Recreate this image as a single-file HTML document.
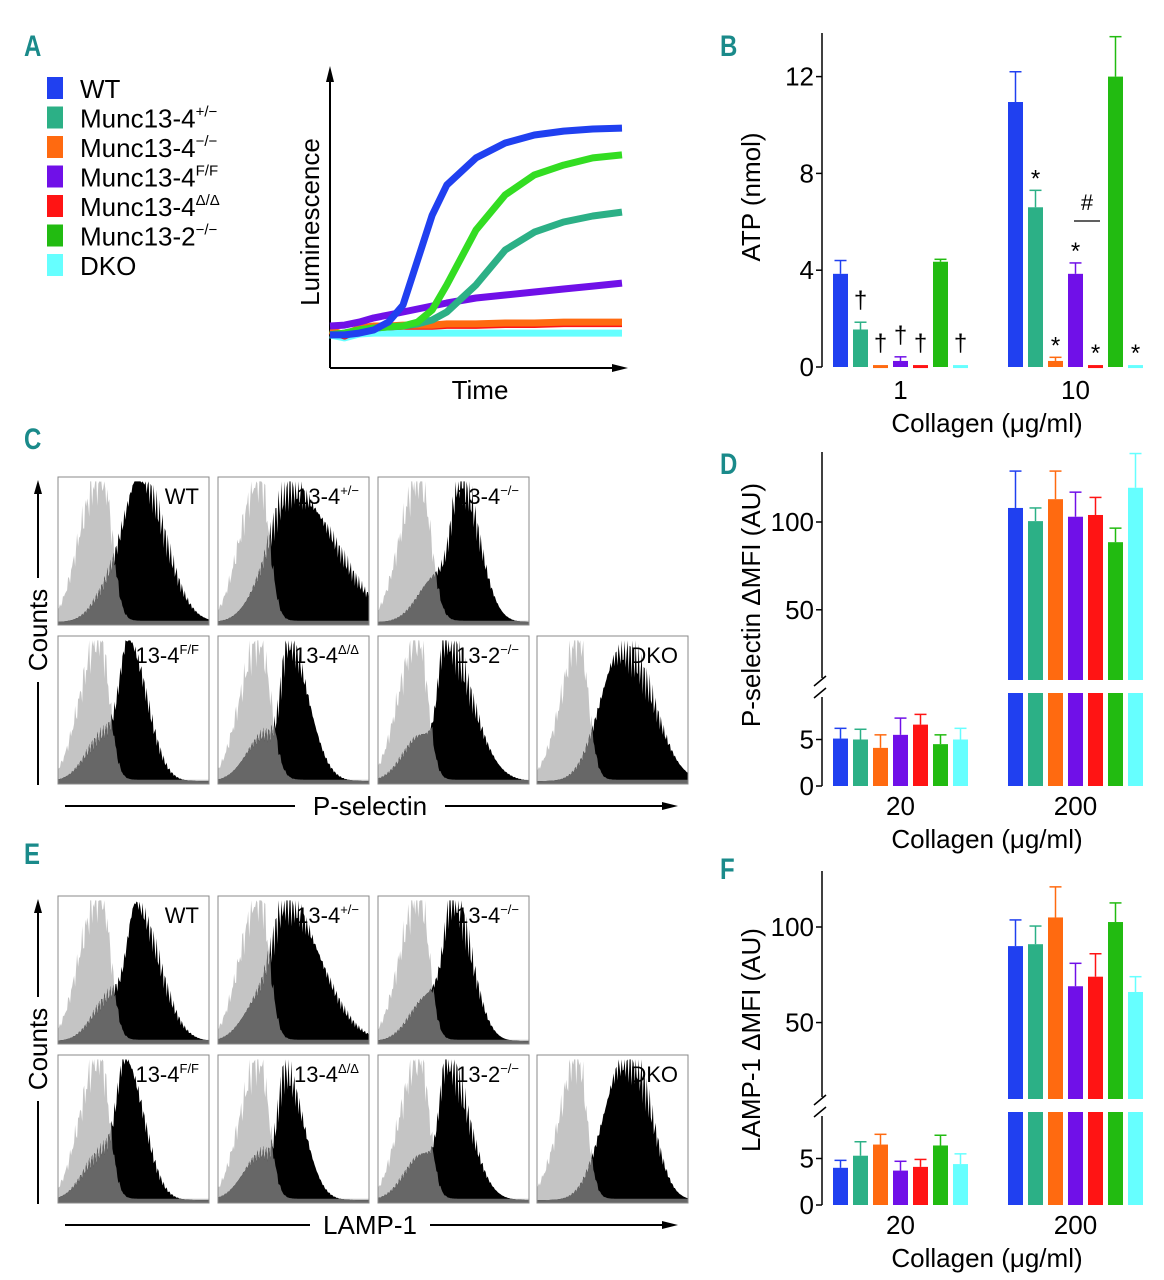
<!DOCTYPE html>
<html><head><meta charset="utf-8"><style>
html,body{margin:0;padding:0;background:#fff;}
svg{display:block;font-family:"Liberation Sans",Arial,sans-serif;}
.pl{font-family:"Liberation Sans",sans-serif;font-weight:bold;fill:#1a8a8a;font-size:30px;}
</style></head><body>
<svg id="fig" width="1164" height="1280" viewBox="0 0 1164 1280" xmlns="http://www.w3.org/2000/svg">
<g id="labels">
<text class="pl" x="30" y="56" transform="scale(0.8,1)">A</text>
<text class="pl" x="900" y="56" transform="scale(0.8,1)">B</text>
<text class="pl" x="30" y="449" transform="scale(0.8,1)">C</text>
<text class="pl" x="900" y="474" transform="scale(0.8,1)">D</text>
<text class="pl" x="30" y="864" transform="scale(0.8,1)">E</text>
<text class="pl" x="900" y="879" transform="scale(0.8,1)">F</text>
</g>
</svg>
<script>
const NS="http://www.w3.org/2000/svg";
const svg=document.getElementById('fig');
function mk(tag,attrs,parent){const e=document.createElementNS(NS,tag);for(const k in attrs)e.setAttribute(k,attrs[k]);(parent||svg).appendChild(e);return e;}

// ---------- shared data ----------
const genotypes=["WT","Munc13-4+/-","Munc13-4-/-","Munc13-4F/F","Munc13-4Δ/Δ","Munc13-2-/-","DKO"];
const colors=["#2040f0","#2cb086","#ff6a10","#7010e8","#ff1414","#22bb11","#66ffff"];
const lineColors=["#2040f0","#2cb086","#ff6a10","#7010e8","#ff1414","#33dd22","#66ffff"];

// ---------- Panel A data ----------
const timePts=[0,5,10,15,20,25,30,35,40,50,60,70,80,90,100];
const lumWT=[11.1,11.1,11.7,12.8,15.4,21.1,36.2,51.3,61.4,70.5,75.5,78.2,79.5,80.2,80.5];
const lumHet=[11.1,11.7,12.8,13.4,13.8,14.1,14.8,16.1,18.8,27.9,39.6,45.6,49,51,52.3];
const lumKO=[12.8,11.1,13.4,14.1,14.1,14.4,14.4,14.4,14.8,14.8,15.1,15.1,15.4,15.4,15.4];
const lumFF=[14.1,14.4,15.4,16.8,17.8,18.8,19.8,20.8,21.8,23.5,24.5,25.5,26.5,27.5,28.5];
const lumDD=[12.4,10.7,13,13.6,13.8,14,14,14,14.3,14.3,14.6,14.6,14.9,14.9,14.9];
const lum132=[11.1,11.7,12.8,13.4,13.8,14.1,15.4,19.5,27.9,46.3,58.1,64.8,68.1,70.5,71.5];
const lumDKO=[11.1,10.1,11.4,11.7,11.7,11.7,11.7,11.7,11.7,11.7,11.7,11.7,11.7,11.7,11.7];

// ---------- Panel B data ----------
const atpGroups=["1","10"];
const atp1=[3.85,1.55,0.08,0.25,0.08,4.35,0.08];
const atp1Err=[4.4,1.85,0.08,0.42,0.08,4.45,0.08];
const atp10=[10.95,6.6,0.25,3.85,0.08,12.0,0.08];
const atp10Err=[12.2,7.3,0.4,4.3,0.08,13.65,0.08];
const atpTicks=[0,4,8,12];
const atpMarks1=["","†","†","†","†","","†"];
const atpMarks10=["","*","*","*","*","","*"];

// ---------- Panel D / F data ----------
const mfiGroups=["20","200"];
const psel20=[5.1,5.0,4.1,5.5,6.6,4.5,5.0];
const psel20Err=[6.2,6.1,5.5,7.3,7.7,5.5,6.2];
const psel200=[108,100.5,113,103,104,88.5,119.5];
const psel200Err=[129,108,129,117,114,96.5,139];
const lamp20=[4.0,5.3,6.5,3.7,4.1,6.4,4.4];
const lamp20Err=[4.8,6.8,7.6,4.7,4.9,7.5,5.5];
const lamp200=[90,91,105,69,74,102.6,66];
const lamp200Err=[103.7,100.5,121,81,86,112.6,74];
const mfiLowTicks=[0,5];
const mfiHighTicks=[50,100];

// ---------- Histogram params [ctrlCenter, ctrlSdL, ctrlSdR, ctrlH, sampCenter, sampSdL, sampSdR, sampH] ----------
const histLabels=["WT","13-4","13-4","13-4","13-4","13-2","DKO"];
const histSups=["","+/−","−/−","F/F","Δ/Δ","−/−",""];
const pselHist=[[0.30,0.12,0.06,0.95,0.55,0.09,0.16,0.98],[0.28,0.10,0.06,0.95,0.50,0.10,0.28,0.90],[0.28,0.10,0.07,0.96,0.55,0.06,0.12,0.98],
[0.28,0.10,0.06,0.95,0.47,0.06,0.12,0.95],[0.28,0.10,0.07,0.92,0.47,0.05,0.13,0.95],[0.27,0.10,0.06,0.95,0.45,0.05,0.17,0.97],[0.28,0.09,0.06,0.95,0.63,0.14,0.16,0.82]];
const lampHist=[[0.29,0.11,0.06,0.96,0.52,0.06,0.15,0.92],[0.28,0.10,0.06,0.95,0.46,0.08,0.22,0.95],[0.28,0.10,0.06,0.97,0.50,0.06,0.12,0.97],
[0.28,0.10,0.06,0.95,0.45,0.06,0.12,0.95],[0.28,0.10,0.06,0.92,0.45,0.05,0.12,0.86],[0.28,0.10,0.06,0.95,0.46,0.05,0.14,0.95],[0.27,0.09,0.06,0.95,0.65,0.14,0.12,0.90]];

// ================= Panel A =================
(function(){
  const g=mk('g',{});
  
  
  const legRows=[["WT",""],["Munc13-4","+/−"],["Munc13-4","−/−"],["Munc13-4","F/F"],["Munc13-4","Δ/Δ"],["Munc13-2","−/−"],["DKO",""]];
  legRows.forEach((r,i)=>{
    const y=88+i*29.5;
    const le=mk('g',{},g);
    
    
    mk('rect',{x:47,y:y-11,width:16,height:22,fill:colors[i]},le);
    const t=mk('text',{x:80,y:y+10,'font-size':26,fill:'#000'},le);
    t.textContent=r[0];
    if(r[1]){const s=mk('tspan',{'font-size':15,dy:-11},t);s.textContent=r[1];}
  });
  const X0=330,X1=622,Y0=368,Y1=70;
  const xs=t=>X0+(X1-X0)*t/100;
  const ys=v=>Y0-(Y0-Y1)*v/100;
  const ax=mk('g',{},g);
  
  
  mk('line',{x1:X0,y1:Y0,x2:X0,y2:78,stroke:'#000','stroke-width':2},ax);
  mk('polygon',{points:`${X0-4},82 ${X0},66 ${X0+4},82`,fill:'#000'},ax);
  mk('line',{x1:X0,y1:Y0,x2:616,y2:Y0,stroke:'#000','stroke-width':2},ax);
  mk('polygon',{points:`612,${Y0-4} 628,${Y0} 612,${Y0+4}`,fill:'#000'},ax);
  const yl=mk('text',{x:0,y:0,'font-size':26,'text-anchor':'middle',transform:'translate(319,222) rotate(-90)'},g);
  
  
  yl.textContent='Luminescence';
  const xl=mk('text',{x:480,y:399,'font-size':26,'text-anchor':'middle'},g);
  
  
  xl.textContent='Time';
  const series=[lumDKO,lumDD,lumKO,lumFF,lumHet,lum132,lumWT];
  const cols=[6,4,2,3,1,5,0];
  series.forEach((s,k)=>{
    const pts=s.map((v,i)=>xs(timePts[i]).toFixed(1)+','+ys(v).toFixed(1)).join(' ');
    const pl=mk('polyline',{points:pts,fill:'none',stroke:lineColors[cols[k]],'stroke-width':7,'stroke-linejoin':'round'},g);
    
    
  });
})();

// ================= Bar chart helper =================
function barChart(opts){
  const g=mk('g',{});
  
  
  const AX=822, starts=[833,1008], pitch=20, bw=15;
  const ysc=opts.ysc;
  opts.axisSegs.forEach(sg=>{
    const l=mk('line',{x1:AX,y1:sg[0],x2:AX,y2:sg[1],stroke:'#000','stroke-width':1.5},g);
    
    
  });
  opts.ticks.forEach(tv=>{
    const y=ysc(tv);
    mk('line',{x1:AX-6,y1:y,x2:AX,y2:y,stroke:'#000','stroke-width':1.5},g);
    const t=mk('text',{x:AX-8,y:y+9,'font-size':26,'text-anchor':'end'},g);
    
    
    t.textContent=tv;
  });
  if(opts.breakY){
    const b=opts.breakY;
    mk('line',{x1:AX-8,y1:b+2,x2:AX+4,y2:b-8,stroke:'#000','stroke-width':1.5},g);
    mk('line',{x1:AX-8,y1:b+14,x2:AX+4,y2:b+4,stroke:'#000','stroke-width':1.5},g);
  }
  [opts.vals,opts.vals2].forEach((vals,gi)=>{
    const errs=gi==0?opts.errs:opts.errs2;
    vals.forEach((v,i)=>{
      const x=starts[gi]+i*pitch, cx=x+bw/2;
      const e=errs[i];
      if(e>v+0.05){
        const ey=ysc(e), vy=ysc(v);
        mk('line',{x1:cx,y1:vy,x2:cx,y2:ey,stroke:colors[i],'stroke-width':1.5},g);
        mk('line',{x1:cx-6,y1:ey,x2:cx+6,y2:ey,stroke:colors[i],'stroke-width':1.5},g);
      }
      const pieces=opts.pieces(v);
      pieces.forEach(p=>{
        const r=mk('rect',{x:x,y:p[0],width:bw,height:Math.max(3,p[1]-p[0]),fill:colors[i]},g);
        
        
      });
    });
    const gl=mk('text',{x:starts[gi]+3*pitch+bw/2,y:opts.catY,'font-size':26,'text-anchor':'middle'},g);
    
    
    gl.textContent=opts.groups[gi];
  });
  const xt=mk('text',{x:987,y:opts.catY+33,'font-size':26,'text-anchor':'middle'},g);
  
  
  xt.textContent='Collagen (μg/ml)';
  const yt=mk('text',{x:0,y:0,'font-size':26,'text-anchor':'middle',transform:`translate(760,${opts.ytY}) rotate(-90)`},g);
  
  
  yt.textContent=opts.ytitle;
  return g;
}

// ===== Panel B =====
(function(){
  const ysc=v=>367-v*24.2;
  const g=barChart({name:'panel-b',ysc:ysc,axisSegs:[[33,367]],ticks:atpTicks,vals:atp1,errs:atp1Err,vals2:atp10,errs2:atp10Err,
    pieces:v=>[[ysc(v),367]],groups:atpGroups,catY:399,ytY:197,ytitle:'ATP (nmol)'});
  [atpMarks1,atpMarks10].forEach((marks,gi)=>{
    const errs=gi==0?atp1Err:atp10Err;
    marks.forEach((m,i)=>{
      if(!m)return;
      const cx=[833,1008][gi]+i*20+7.5;
      const top=Math.min(ysc(errs[i]),365);
      const t=mk('text',{x:cx,y:m=='†'?top-14:top-4,'font-size':24,'text-anchor':'middle'},g);
      
      
      t.textContent=m;
    });
  });
  const h=mk('text',{x:1087,y:210,'font-size':22,'text-anchor':'middle'},g);
  
  
  h.textContent='#';
  mk('line',{x1:1074,y1:221,x2:1100,y2:221,stroke:'#000','stroke-width':1.3},g);
})();

// ===== Panel D / F =====
function mfiPanel(name,off,upBase,upScale,v20,e20,v200,e200,ytitle,ytY){
  const base=786+off;
  const lowS=(base-(693+off))/10;
  const ysc=v=>v<=10?base-v*lowS:(upBase+off)-(v-10)*upScale;
  barChart({name:name,ysc:ysc,axisSegs:[[452+off,678+off],[697+off,base]],ticks:mfiLowTicks.concat(mfiHighTicks),
    vals:v20,errs:e20,vals2:v200,errs2:e200,
    pieces:v=>v<=10?[[ysc(v),base]]:[[ysc(v),upBase+off],[693+off,base]],
    breakY:684+off,groups:mfiGroups,catY:815+off,ytY:ytY,ytitle:ytitle});
}
mfiPanel('panel-d',0,680,158/90,psel20,psel20Err,psel200,psel200Err,'P-selectin ΔMFI (AU)',605);
mfiPanel('panel-f',419,680,172/90,lamp20,lamp20Err,lamp200,lamp200Err,'LAMP-1 ΔMFI (AU)',1040);

// ================= Histograms =================
function histPanel(name,off,params,marker){
  const g=mk('g',{});
  
  
  const boxes=[[58,477],[218,477],[378,477],[58,636],[218,636],[378,636],[537,636]];
  const W=151,H=148,N=150;
  params.forEach((p,k)=>{
    const bx=boxes[k][0], by=boxes[k][1]+off;
    const bg=mk('g',{},g);
    
    
    const gs=(x,c,sl,sr)=>{const s=x<c?sl:sr;return Math.exp(-0.5*((x-c)/s)**2);};
    const ctrl=[],samp=[];
    for(let i=0;i<=N;i++){
      const x=i/N;
      const jag=1+0.2*Math.sin(i*2.7)*Math.cos(i*1.3+k);
      ctrl.push(Math.min(1,(p[3]*gs(x,p[0],p[1],p[2])+0.2*gs(x,p[0]-0.15,0.08,0.08))*jag+0.03));
      samp.push(Math.min(1,(p[7]*gs(x,p[4],p[5],p[6])+0.32*gs(x,p[4]-0.16,0.12,0.08))*(1+0.2*Math.sin(i*3.1+k)*Math.cos(i*0.9))+0.02));
    }
    const path=arr=>{let d=`M${bx},${by+H}`;arr.forEach((v,i)=>{d+=` L${(bx+W*i/N).toFixed(1)},${(by+H-v*H*0.97).toFixed(1)}`;});return d+` L${bx+W},${by+H} Z`;};
    mk('path',{d:path(ctrl),fill:'#c4c4c4'},bg);
    mk('path',{d:path(samp),fill:'#000'},bg);
    mk('path',{d:path(ctrl.map((v,i)=>Math.min(v,samp[i]))),fill:'#676767'},bg);
    mk('rect',{x:bx,y:by,width:W,height:H,fill:'none',stroke:'#888','stroke-width':1},bg);
    const t=mk('text',{x:bx+W-10,y:by+27,'font-size':22,'text-anchor':'end'},bg);
    
    
    t.textContent=histLabels[k];
    if(histSups[k]){const s=mk('tspan',{'font-size':13,dy:-9},t);s.textContent=histSups[k];}
  });
  const cy1=785+off, cy0=480+off;
  mk('line',{x1:38,y1:cy1,x2:38,y2:cy0+12,stroke:'#000','stroke-width':2},g);
  mk('polygon',{points:`34,${cy0+14} 38,${cy0} 42,${cy0+14}`,fill:'#000'},g);
  mk('rect',{x:26,y:578+off,width:26,height:104,fill:'#fff'},g);
  const ct=mk('text',{x:0,y:0,'font-size':26,'text-anchor':'middle',transform:`translate(47,${630+off}) rotate(-90)`},g);
  
  
  ct.textContent='Counts';
  const ay=806+off;
  mk('line',{x1:65,y1:ay,x2:664,y2:ay,stroke:'#000','stroke-width':2},g);
  mk('polygon',{points:`662,${ay-4} 678,${ay} 662,${ay+4}`,fill:'#000'},g);
  const tw=marker=='P-selectin'?150:120;
  mk('rect',{x:370-tw/2,y:ay-16,width:tw,height:32,fill:'#fff'},g);
  const xt=mk('text',{x:370,y:ay+9,'font-size':26,'text-anchor':'middle'},g);
  
  
  xt.textContent=marker;
}
histPanel('panel-c',0,pselHist,'P-selectin');
histPanel('panel-e',419,lampHist,'LAMP-1');
</script>
</body></html>
